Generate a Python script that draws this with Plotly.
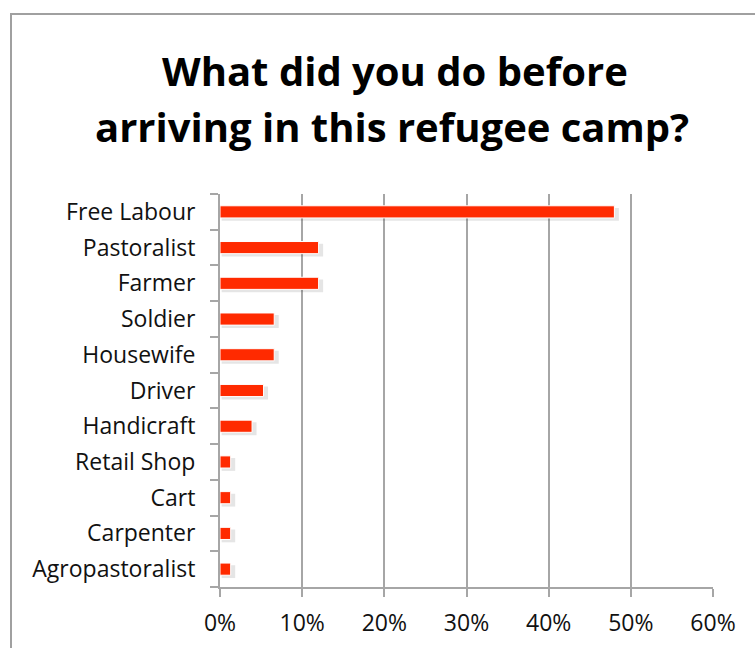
import plotly.graph_objects as go

# Occupations before arrival (share of respondents, %)
occupations = [
    "Free Labour", "Pastoralist", "Farmer", "Soldier", "Housewife", "Driver",
    "Handicraft", "Retail Shop", "Cart", "Carpenter", "Agropastoralist",
]
shares = [48.0, 12.0, 12.0, 6.6, 6.6, 5.3, 3.9, 1.3, 1.3, 1.3, 1.3]
x_ticks = [0, 10, 20, 30, 40, 50, 60]
x_tick_labels = ["0%", "10%", "20%", "30%", "40%", "50%", "60%"]

W, H = 755, 648
L, R, T, B = 220, 42, 194, 61
pw, ph = W - L - R, H - T - B

def px_x(p):
    return (p - L) / pw

def px_y(p):
    return (H - B - p) / ph

FONT = "Open Sans"
GRID = "#A6A6A6"
BAR = "#FF2A00"

fig = go.Figure()

# soft drop shadow behind each bar
fig.add_trace(go.Bar(
    y=occupations, x=[v + 0.35 for v in shares], base=0.2,
    orientation="h", width=0.36, offset=-0.25,
    marker=dict(color="rgba(0,0,0,0.10)", line=dict(width=0)),
    hoverinfo="skip", showlegend=False,
))
fig.add_trace(go.Bar(
    y=occupations, x=shares, orientation="h", width=0.34, offset=-0.17,
    marker=dict(color=BAR, line=dict(color="white", width=1)),
    showlegend=False,
))

fig.update_layout(
    width=W, height=H,
    margin=dict(l=L, r=R, t=T, b=B),
    paper_bgcolor="white", plot_bgcolor="white",
    barmode="overlay",
    font=dict(family=FONT, color="#111111", size=23),
    xaxis=dict(
        range=[0, 60], tickvals=x_ticks, ticktext=x_tick_labels,
        showgrid=True, gridcolor=GRID, gridwidth=2,
        showline=True, linecolor=GRID, linewidth=2,
        ticks="outside", ticklen=8, tickcolor=GRID, tickwidth=2,
        ticklabelstandoff=6, zeroline=False, automargin=False,
        tickfont=dict(size=23, family=FONT),
    ),
    yaxis=dict(
        categoryorder="array", categoryarray=occupations[::-1],
        showgrid=False, showline=True, linecolor=GRID, linewidth=2,
        ticks="outside", ticklen=8, tickcolor=GRID, tickwidth=2,
        tickson="boundaries", ticklabelstandoff=18, automargin=False,
        tickfont=dict(size=23, family=FONT),
        range=[-0.5, 10.5],
    ),
    annotations=[
        dict(text="<b>What did you do before</b>", xref="paper", yref="paper",
             x=px_x(395), y=px_y(100), xanchor="center", yanchor="bottom",
             showarrow=False, font=dict(size=40, family=FONT, color="black")),
        dict(text="<b>arriving in this refugee camp?</b>", xref="paper", yref="paper",
             x=px_x(392), y=px_y(156), xanchor="center", yanchor="bottom",
             showarrow=False, font=dict(size=40, family=FONT, color="black")),
    ],
    shapes=[
        dict(type="rect", xref="paper", yref="paper",
             x0=px_x(11), x1=px_x(760), y0=px_y(660), y1=px_y(14),
             line=dict(color="#A0A0A0", width=2), fillcolor="rgba(0,0,0,0)",
             layer="below"),
    ],
)

fig.write_html("out.html")
